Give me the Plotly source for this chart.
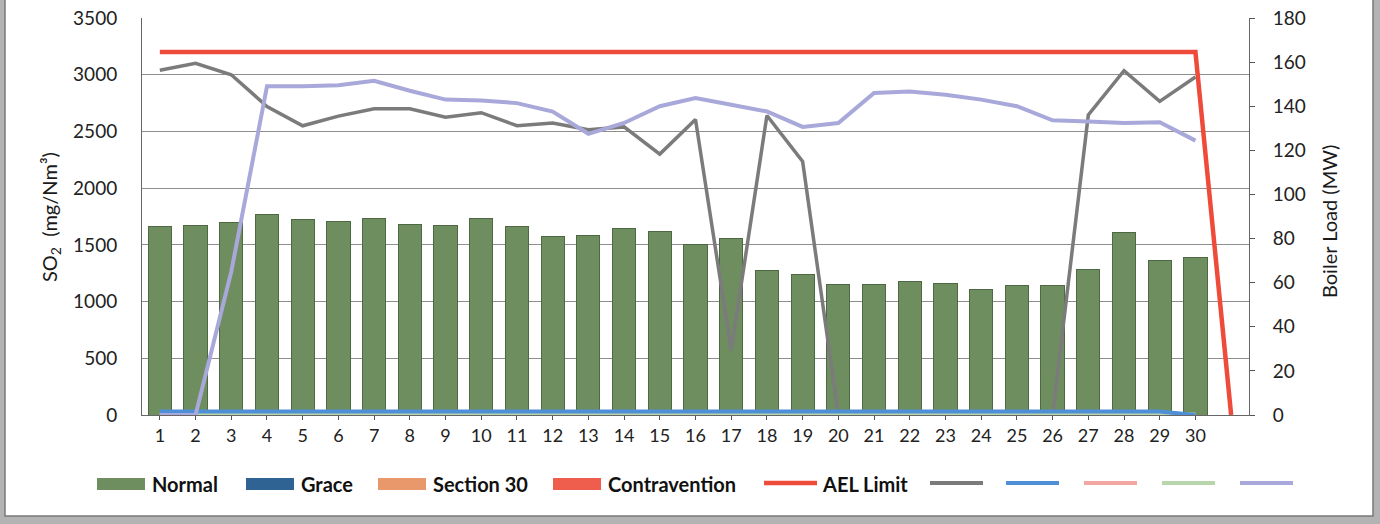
import plotly.graph_objects as go

days = list(range(1, 32))
tick_labels = [str(d) for d in range(1, 31)]

normal = [1660, 1670, 1700, 1770, 1720, 1710, 1730, 1680, 1670, 1730,
          1660, 1570, 1580, 1640, 1620, 1500, 1560, 1270, 1240, 1150,
          1150, 1180, 1160, 1110, 1140, 1140, 1280, 1610, 1360, 1390]
grace = [0] * 30
section30 = [0] * 30
contravention = [0] * 30

ael_limit = [3200] * 30 + [0]

so2_gray = [3040, 3100, 3000, 2720, 2550, 2635, 2700, 2700, 2625, 2665,
            2550, 2575, 2515, 2540, 2300, 2605, 570, 2640, 2235, 0,
            0, 0, 0, 0, 0, 0, 2645, 3035, 2765, 2980]
series_blue = [30] * 29 + [0]
series_pink = [0] * 30
series_green = [0] * 30
load_mw = [0, 0, 65, 149, 149, 149.5, 151.5, 147, 143, 142.6,
           141.4, 137.6, 127.5, 132.4, 140, 143.7, 140.7, 137.6, 130.6, 132.4,
           146, 146.7, 145.2, 143, 140, 133.6, 133.1, 132.4, 132.7, 124.4]

legend_bar_names = ["Normal", "Grace", "Section 30", "Contravention"]
legend_line_names = ["AEL Limit", "", "", "", "", ""]

C_NORMAL = "#6f8e60"
C_GRACE = "#2f6394"
C_SEC30 = "#e8986a"
C_CONTRA = "#ef5e4c"
C_AEL = "#ef4b3a"
C_GRAY = "#7b7b7b"
C_BLUE = "#4e8fd8"
C_PINK = "#f2a7a2"
C_LGREEN = "#b7d6ab"
C_LAV = "#a8a8da"

FONT = "Lato"

fig = go.Figure()

x30 = days[:30]
fig.add_trace(go.Bar(x=x30, y=normal, name="Normal",
                     marker=dict(color=C_NORMAL, line=dict(color="#4d6842", width=1)), width=0.65))
fig.add_trace(go.Bar(x=x30, y=grace, name="Grace", marker=dict(color=C_GRACE, line=dict(width=0)), width=0.65))
fig.add_trace(go.Bar(x=x30, y=section30, name="Section 30", marker=dict(color=C_SEC30, line=dict(width=0)), width=0.65))
fig.add_trace(go.Bar(x=x30, y=contravention, name="Contravention", marker=dict(color=C_CONTRA, line=dict(width=0)), width=0.65))

fig.add_trace(go.Scatter(x=days, y=ael_limit, mode="lines", name="AEL Limit",
                         line=dict(color=C_AEL, width=4.5)))
fig.add_trace(go.Scatter(x=x30, y=so2_gray, mode="lines", name="SO2",
                         line=dict(color=C_GRAY, width=3.5)))
fig.add_trace(go.Scatter(x=x30, y=series_pink, mode="lines", name="pink",
                         line=dict(color=C_PINK, width=4)))
fig.add_trace(go.Scatter(x=x30, y=series_green, mode="lines", name="green",
                         line=dict(color=C_LGREEN, width=5)))
fig.add_trace(go.Scatter(x=x30, y=series_blue, mode="lines", name="blue",
                         line=dict(color=C_BLUE, width=4)))
fig.add_trace(go.Scatter(x=x30, y=load_mw, mode="lines", name="Boiler Load", yaxis="y2",
                         line=dict(color=C_LAV, width=4)))

W, H = 1380, 524
L, R, T, B = 142, 1249, 18, 415
pw, ph = R - L, B - T


def px(xp):
    return (xp - L) / pw


def py(yp):
    return (B - yp) / ph


shapes = [dict(type="rect", xref="paper", yref="paper", layer="below",
               x0=px(5), x1=px(1373), y0=py(516), y1=py(-5),
               fillcolor="white", line=dict(color="#7a7a7a", width=1.5))]
annotations = [
    dict(text="SO<sub>2</sub>  (mg/Nm³)", xref="paper", yref="paper", x=px(51), y=py(217),
         textangle=-90, showarrow=False, font=dict(size=20, family=FONT, color="#1a1a1a"),
         xanchor="center", yanchor="middle"),
    dict(text="Boiler Load (MW)", xref="paper", yref="paper", x=px(1329), y=py(222),
         textangle=-90, showarrow=False, font=dict(size=20, family=FONT, color="#1a1a1a"),
         xanchor="center", yanchor="middle"),
]

# hand-drawn legend (wide swatches as in the reference)
LEG_Y = 484
bar_keys = [(97, C_NORMAL), (246, C_GRACE), (378, C_SEC30), (553, C_CONTRA)]
for (x0, col), nm in zip(bar_keys, legend_bar_names):
    shapes.append(dict(type="rect", xref="paper", yref="paper",
                       x0=px(x0), x1=px(x0 + 48), y0=py(LEG_Y + 6), y1=py(LEG_Y - 6),
                       fillcolor=col, line=dict(width=0)))
    annotations.append(dict(text="<b>%s</b>" % nm, xref="paper", yref="paper",
                            x=px(x0 + 53), y=py(LEG_Y), xanchor="left", yanchor="middle",
                            showarrow=False, font=dict(size=20, family=FONT, color="#111")))
line_keys = [(764, C_AEL), (930, C_GRAY), (1006, C_BLUE), (1084, C_PINK), (1162, C_LGREEN), (1240, C_LAV)]
for (x0, col), nm in zip(line_keys, legend_line_names):
    shapes.append(dict(type="line", xref="paper", yref="paper",
                       x0=px(x0), x1=px(x0 + 53), y0=py(LEG_Y - 1), y1=py(LEG_Y - 1),
                       line=dict(color=col, width=4.5 if nm else 4)))
    if nm:
        annotations.append(dict(text="<b>%s</b>" % nm, xref="paper", yref="paper",
                                x=px(x0 + 56), y=py(LEG_Y), xanchor="left", yanchor="middle",
                                showarrow=False, font=dict(size=20, family=FONT, color="#111")))

fig.update_layout(
    width=W, height=H,
    margin=dict(l=L, r=W - R, t=T, b=H - B, autoexpand=False),
    paper_bgcolor="#b3b3b3",
    plot_bgcolor="white",
    barmode="stack",
    font=dict(family=FONT, size=19, color="#1a1a1a"),
    showlegend=False,
    xaxis=dict(range=[0.5, 31.5], tickmode="array", tickvals=x30, ticktext=tick_labels,
               ticks="outside", ticklen=4, tickcolor="#555", showgrid=False,
               showline=True, linecolor="#666", linewidth=1, zeroline=False,
               tickfont=dict(size=18, family=FONT, color="#222")),
    yaxis=dict(range=[0, 3500], dtick=500, showgrid=True, gridcolor="#8e8e8e", gridwidth=1,
               showline=True, linecolor="#666", linewidth=1, zeroline=False,
               ticks="", ticklabelstandoff=20, tickfont=dict(size=19, family=FONT, color="#222")),
    yaxis2=dict(range=[0, 180], dtick=20, overlaying="y", side="right", showgrid=False,
                showline=True, linecolor="#666", linewidth=1, zeroline=False,
                ticks="outside", ticklen=5, tickcolor="#555", ticklabelstandoff=14,
                tickfont=dict(size=19, family=FONT, color="#222")),
    shapes=shapes,
    annotations=annotations,
)

fig.write_html("out.html", config={"displayModeBar": False},
               post_script="document.body.style.margin='0px';document.body.style.overflow='hidden';")
